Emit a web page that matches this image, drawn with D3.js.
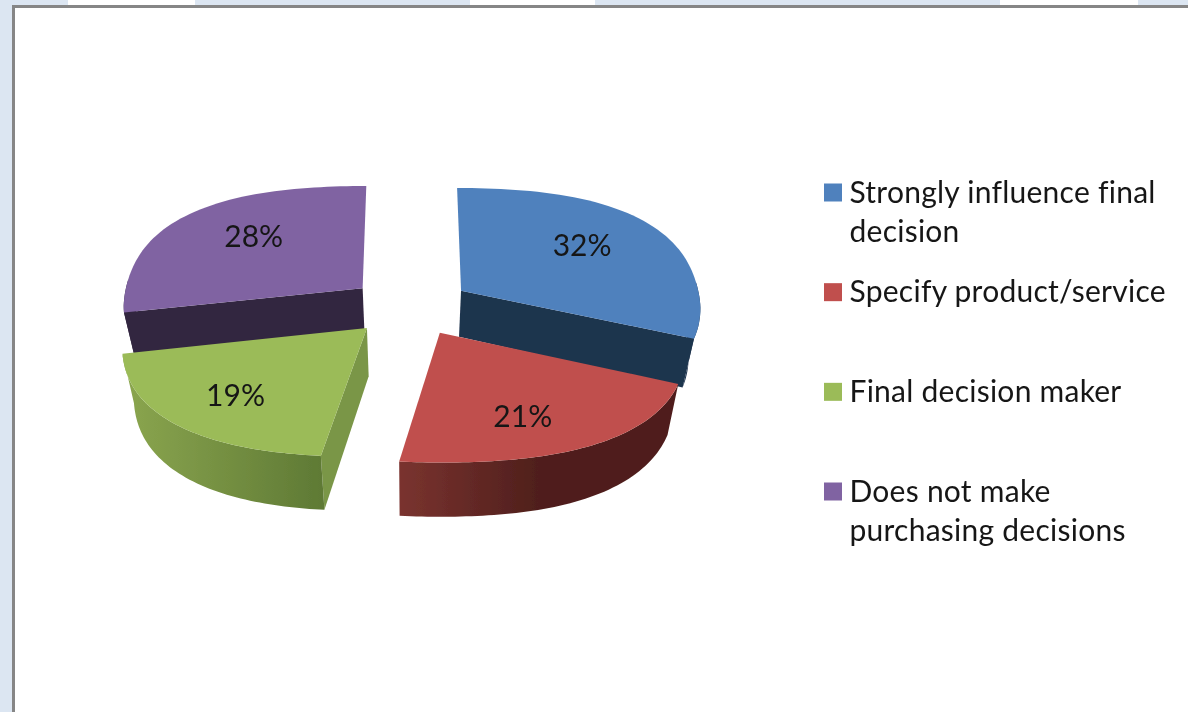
<!DOCTYPE html>
<html>
<head>
<meta charset="utf-8">
<script src="https://cdn.jsdelivr.net/npm/d3@7"></script>
<style>
  html, body { margin: 0; padding: 0; background: #fff; overflow: hidden; }
  text { font-family: Lato, "Open Sans", sans-serif; fill: #161616; font-variant-ligatures: none; }
</style>
</head>
<body>
<svg id="chart" width="1188" height="712"></svg>
<script>
// values, the labels show them rounded
const categories = ["Strongly influence final decision", "Specify product/service", "Final decision maker", "Does not make purchasing decisions"];
const shares = [31.6, 21, 19, 28.4];
const legendLines = [["Strongly influence final", "decision"], ["Specify product/service"], ["Final decision maker"], ["Does not make", "purchasing decisions"]];
const topColors = ["#4f81bd", "#c0504d", "#9bbb59", "#8064a2"];
const cutColors = ["#1e344e", "#4d1e1b", "#7a9647", "#332640"];
const wallFrom = ["#1e344e", "#7a332f", "#8ba64f", "#332640"];
const wallTo = ["#1e344e", "#4f1f1c", "#5f7a35", "#332640"];
const backdropStops = [[0, 68, "#dce6f2"], [68, 195, "#ffffff"], [195, 470, "#dce6f2"], [470, 595, "#ffffff"], [595, 1000, "#dce6f2"], [1000, 1138, "#ffffff"], [1138, 1188, "#dce6f2"]];

const svg = d3.select("#chart");
const width = +svg.attr("width");
const height = +svg.attr("height");
const defs = svg.append("defs");

// the reference is a slightly soft screenshot
defs.append("filter").attr("id", "soft")
  .append("feGaussianBlur").attr("stdDeviation", 0.5);

// Window behind the chart
svg.append("rect").attr("width", width).attr("height", height).attr("fill", "#dce6f2");
svg.selectAll(".strip")
  .data(backdropStops)
  .enter().append("rect")
  .attr("class", "strip")
  .attr("x", d => d[0])
  .attr("y", 0)
  .attr("width", d => d[1] - d[0])
  .attr("height", 6)
  .attr("fill", d => d[2]);
svg.append("rect").attr("x", 12).attr("y", 5).attr("width", width).attr("height", height)
  .attr("fill", "#868686");
svg.append("rect").attr("x", 15).attr("y", 8).attr("width", width).attr("height", height)
  .attr("fill", "#ffffff");

// Pie layout, kept in data order starting from 12 o'clock
const pie = d3.pie().sort(null).value(d => d)(shares);

// Perspective projection of the tilted disc
const center = { x: 410, y: 306.5 };
const radiusX = 240, radiusY = 114, perspY = 0.085, perspFront = 0.07, explode = 0.257, squareness = 0.06;

function project(u, v, z) {
  const shrink = 1 - 0.04 * z;
  const sx = shrink / (1 - (v < 0 ? perspY : perspFront) * v);
  const sy = shrink / (1 - perspY * v);
  const depth = (47 + 11 * v) * z;
  return [center.x + radiusX * u * sx, center.y + radiusY * v * sy + depth];
}

// point on slice: r = 0 apex, r = 1 rim, z = 0 top, z = 1 bottom
function slicePoint(slice, angle, r, z) {
  const mid = (slice.startAngle + slice.endAngle) / 2;
  const bulge = r * (1 + squareness * Math.pow(Math.sin(2 * angle), 2));
  const u = bulge * Math.sin(angle) + explode * Math.sin(mid);
  const v = -bulge * Math.cos(angle) - explode * Math.cos(mid);
  return project(u, v, z);
}

const line = d3.line();

function rimAngles(slice) {
  const n = 60;
  return d3.range(n + 1).map(i => slice.startAngle + (slice.endAngle - slice.startAngle) * i / n);
}

// Back slices first so front slices paint over them
const drawOrder = [3, 0, 2, 1];
const content = svg.append("g").attr("filter", "url(#soft)");
const pieGroup = content.append("g");

drawOrder.forEach(i => {
  const slice = pie[i];
  const g = pieGroup.append("g");
  const angles = rimAngles(slice);

  // Side gradient for the outer wall
  const extentX = d3.extent(angles, a => slicePoint(slice, a, 1, 0)[0]);
  const grad = defs.append("linearGradient")
    .attr("id", "wall" + i)
    .attr("gradientUnits", "userSpaceOnUse")
    .attr("x1", extentX[0])
    .attr("x2", i === 1 ? extentX[0] + (extentX[1] - extentX[0]) * 0.5 : extentX[1])
    .attr("y1", 0).attr("y2", 0);
  grad.append("stop").attr("offset", "0%").attr("stop-color", wallFrom[i]);
  grad.append("stop").attr("offset", "100%").attr("stop-color", wallTo[i]);

  // Radial cut faces, only the ones turned towards the viewer
  const faces = [];
  if (-Math.sin(slice.startAngle) > 0.01) faces.push(slice.startAngle);
  if (Math.sin(slice.endAngle) > 0.01) faces.push(slice.endAngle);
  faces.forEach(a => {
    g.append("path")
      .attr("d", line([
        slicePoint(slice, a, 0, 0), slicePoint(slice, a, 1, 0),
        slicePoint(slice, a, 1, 1), slicePoint(slice, a, 0, 1)
      ]) + "Z")
      .attr("fill", cutColors[i]);
  });

  // Outer wall, front part of the rim only
  const front = angles.filter(a => Math.cos(a) < 0.1);
  const wallTop = front.map(a => slicePoint(slice, a, 1, 0));
  const wallBottom = front.map(a => slicePoint(slice, a, 1, 1)).reverse();
  g.append("path")
    .attr("d", line(wallTop.concat(wallBottom)) + "Z")
    .attr("fill", `url(#wall${i})`);

  // Top face
  const apex = slicePoint(slice, slice.startAngle, 0, 0);
  const rim = angles.map(a => slicePoint(slice, a, 1, 0));
  g.append("path")
    .attr("d", line([apex].concat(rim)) + "Z")
    .attr("fill", topColors[i]);
});

// Percentage labels, pulled in a little sideways on the back slices
function labelPoint(d) {
  const mid = (d.startAngle + d.endAngle) / 2;
  const r = 0.74;
  const pull = 1 - 0.25 * Math.max(0, Math.cos(mid));
  const u = r * pull * Math.sin(mid) + explode * Math.sin(mid);
  const v = -r * Math.cos(mid) - explode * Math.cos(mid);
  const p = project(u, v, 0);
  const nudge = (5 + 6 * Math.sin(mid)) * Math.max(0, -Math.cos(mid)) / 0.8;
  return [p[0] - nudge, p[1] - 3 * Math.cos(mid)];
}

content.selectAll(".pct")
  .data(pie)
  .enter().append("text")
  .attr("class", "pct")
  .attr("x", d => labelPoint(d)[0])
  .attr("y", d => labelPoint(d)[1] + 10)
  .attr("text-anchor", "middle")
  .attr("font-size", 30)
  .text(d => d3.format(".0f")(d.data) + "%");

// Legend
const legendY = d3.scalePoint().domain(categories).range([192.5, 491.5]);
const legend = content.selectAll(".legend")
  .data(categories)
  .enter().append("g")
  .attr("class", "legend")
  .attr("transform", d => `translate(824,${legendY(d)})`);

legend.append("rect")
  .attr("x", 0).attr("y", -9)
  .attr("width", 18).attr("height", 18)
  .attr("fill", (d, i) => topColors[i]);

legend.each(function(d, i) {
  d3.select(this).selectAll("text")
    .data(legendLines[i])
    .enter().append("text")
    .attr("x", 25.5)
    .attr("y", (t, j) => 10 + j * 39.5)
    .attr("font-size", 30)
    .attr("letter-spacing", 0.25)
    .text(t => t);
});
</script>
</body>
</html>
